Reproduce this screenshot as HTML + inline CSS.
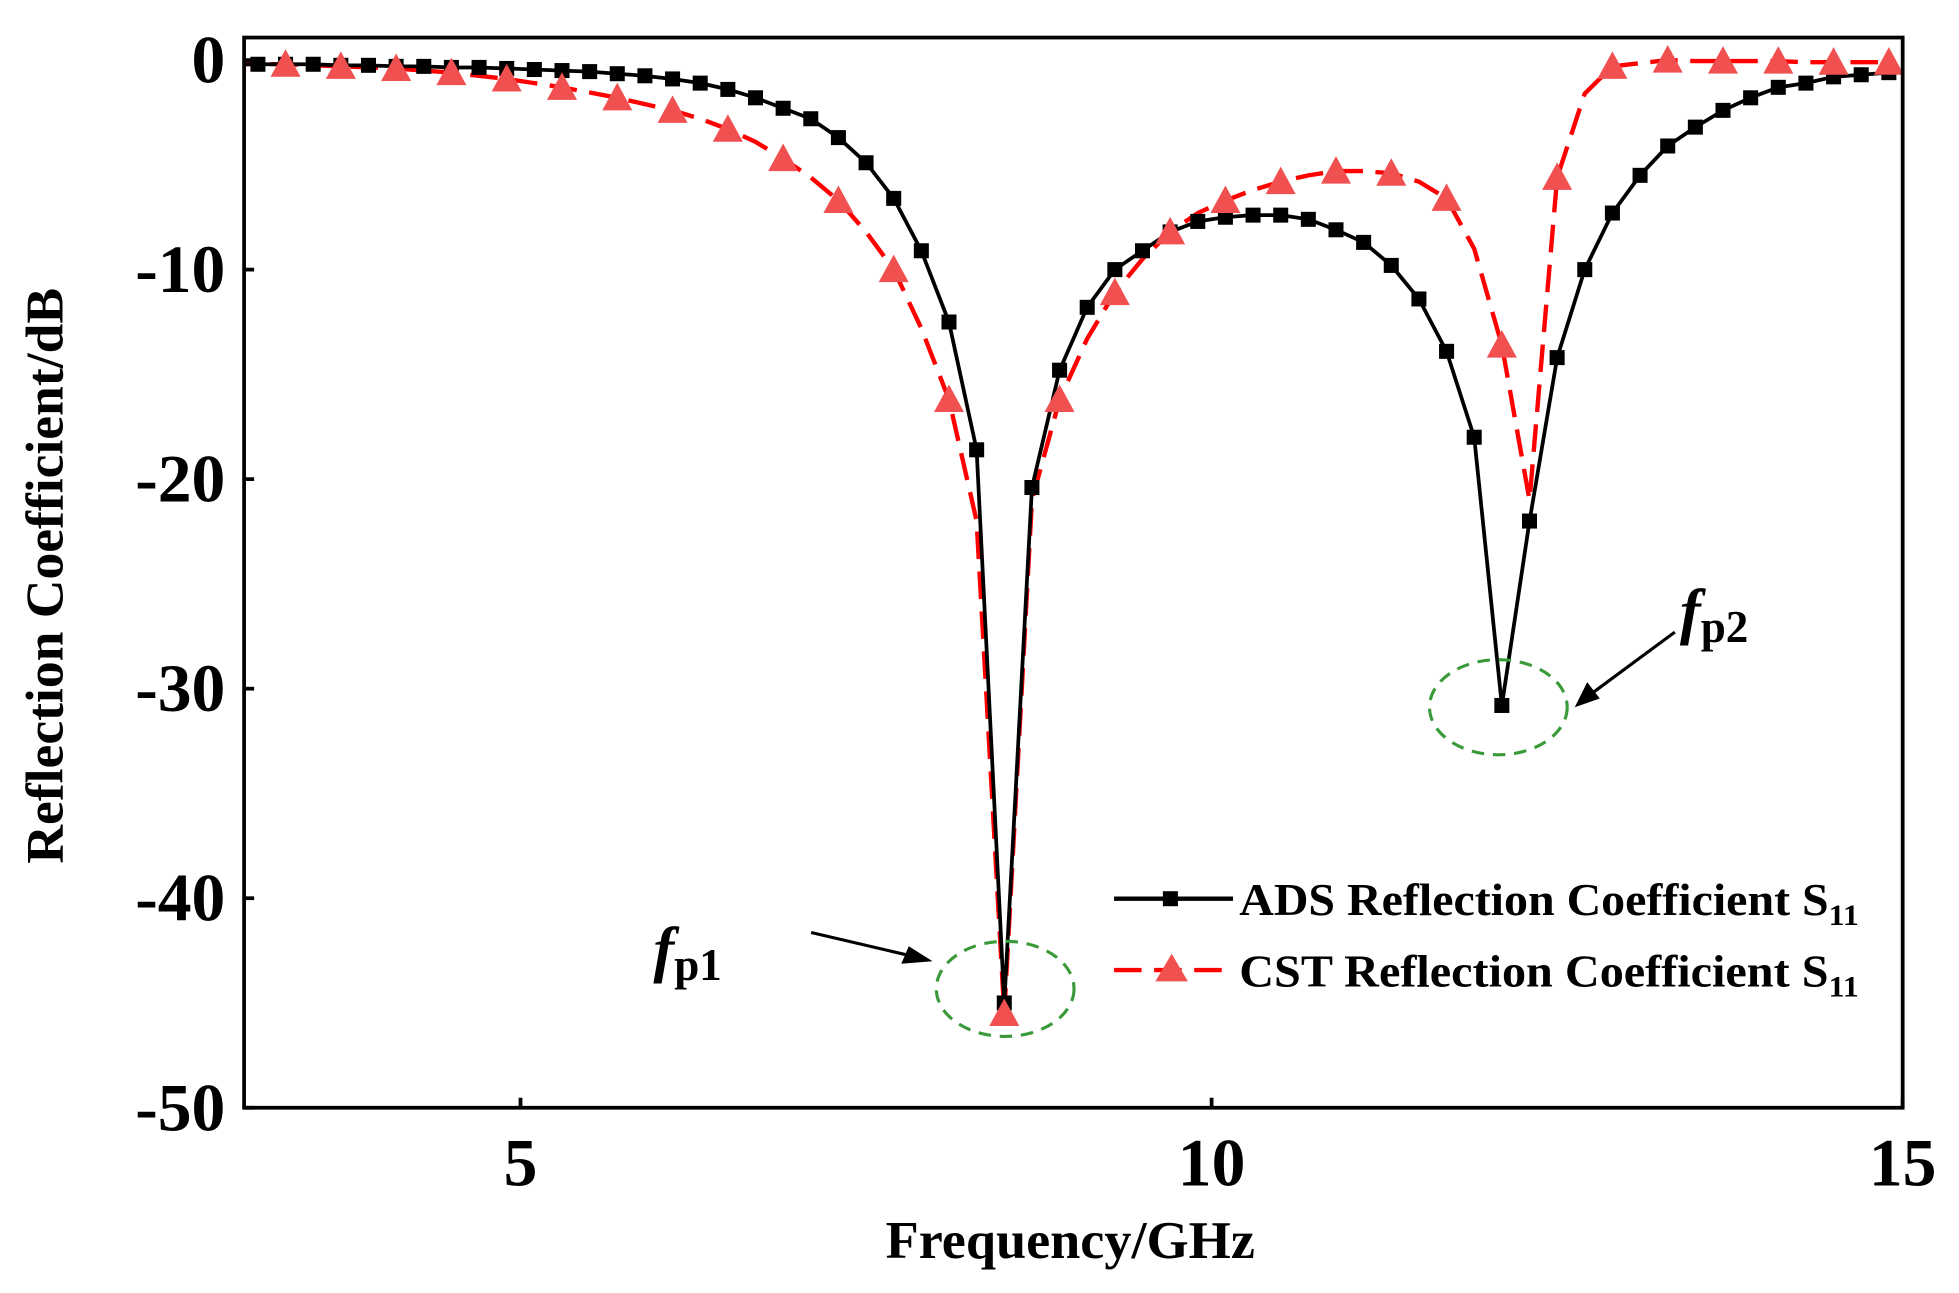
<!DOCTYPE html>
<html><head><meta charset="utf-8"><style>
html,body{margin:0;padding:0;background:#fff;}
svg{display:block;}
text{font-family:"Liberation Serif",serif;font-weight:bold;fill:#000;}
</style></head><body>
<svg id="chart" width="1959" height="1293" viewBox="0 0 1565 1033" preserveAspectRatio="none" xmlns="http://www.w3.org/2000/svg">
<defs><clipPath id="pc"><rect x="195" y="30" width="1325" height="855"/></clipPath></defs>
<g id="axes"></g>
<g id="series" clip-path="url(#pc)"></g>
<rect x="195" y="30" width="1325" height="855" fill="none" stroke="#000" stroke-width="3"/>
<text x="50" y="460" font-size="42" text-anchor="middle" transform="rotate(-90 50 460)" textLength="460" lengthAdjust="spacingAndGlyphs">Reflection Coefficient/dB</text>
<text x="855" y="1005" font-size="42" text-anchor="middle" textLength="295" lengthAdjust="spacingAndGlyphs">Frequency/GHz</text>
<ellipse cx="803" cy="790" rx="55" ry="38" fill="none" stroke="#3a9a3a" stroke-width="2.5" stroke-dasharray="10,7"/>
<ellipse cx="1197" cy="565" rx="55" ry="38" fill="none" stroke="#3a9a3a" stroke-width="2.5" stroke-dasharray="10,7"/>
<g><line x1="648" y1="745" x2="725" y2="763" stroke="#000" stroke-width="2.5"/><polygon points="745,768 720,770 726,756" fill="#000"/></g>
<g><line x1="1338" y1="505" x2="1273" y2="553" stroke="#000" stroke-width="2.5"/><polygon points="1258,565 1268,545 1278,558" fill="#000"/></g>
<text x="522" y="775" font-size="50" font-style="italic">f<tspan font-size="36" font-style="normal" dy="8">p1</tspan></text>
<text x="1342" y="505" font-size="50" font-style="italic">f<tspan font-size="36" font-style="normal" dy="8">p2</tspan></text>
<g>
<g><line x1="890" y1="718" x2="985" y2="718" stroke="#000" stroke-width="3.5"/><rect x="929" y="712" width="12" height="12" fill="#000"/><text x="990" y="731" font-size="36" textLength="495" lengthAdjust="spacingAndGlyphs">ADS Reflection Coefficient S<tspan font-size="24" dy="8">11</tspan></text></g>
<g><line x1="890" y1="775" x2="985" y2="775" stroke="#f00" stroke-width="3.5" stroke-dasharray="22,10"/><polygon points="936,762 923,784 949,784" fill="#f05050"/><text x="990" y="788" font-size="36" textLength="495" lengthAdjust="spacingAndGlyphs">CST Reflection Coefficient S<tspan font-size="24" dy="8">11</tspan></text></g>
</g>
</svg>
<script>
const xTicks=[5,10,15];
const yTicks=[0,-10,-20,-30,-40,-50];
const freqStart=2.9, freqStep=0.2;
const adsValues=[-0.2,-0.2,-0.2,-0.2,-0.25,-0.25,-0.3,-0.3,-0.35,-0.35,-0.4,-0.45,-0.5,-0.55,-0.65,-0.75,
-0.9,-1.1,-1.4,-1.8,-2.3,-2.8,-3.7,-4.9,-6.6,-9.1,-12.5,-18.6,-45,-20.4,-14.8,-11.8,-10,-9.1,-8.2,-7.7,
-7.5,-7.4,-7.4,-7.6,-8.1,-8.7,-9.8,-11.4,-13.9,-18,-30.8,-22,-14.2,-10,-7.3,-5.5,-4.1,-3.2,-2.4,-1.8,
-1.3,-1.1,-0.8,-0.7,-0.6];
const cstValues=[-0.2,-0.2,-0.2,-0.25,-0.3,-0.35,-0.4,-0.5,-0.6,-0.75,-0.9,
-1.1,-1.3,-1.55,-1.8,-2.1,-2.4,-2.8,-3.3,-3.9,-4.7,
-5.6,-6.7,-8.2,-10,-12.8,-16.2,-22,-45.5,-21,-16.2,
-13.3,-11.1,-9.5,-8.2,-7.3,-6.7,-6.2,-5.8,-5.5,-5.3,
-5.3,-5.4,-5.8,-6.6,-9,-13.6,-21,-5.6,-1.6,-0.3,
-0.15,0,-0.05,-0.05,-0.05,-0.05,-0.1,-0.1,-0.1,-0.1];
const NS='http://www.w3.org/2000/svg';
function X(f){return 195+(f-3)*(1325/12);}
function Y(v){return 48+(-v)*(837/50);}
function mk(t,a,p){const e=document.createElementNS(NS,t);for(const k in a)e.setAttribute(k,a[k]);p.appendChild(e);return e;}
const axes=document.getElementById('axes'), ser=document.getElementById('series');
xTicks.forEach(t=>{
  const l=mk('line',{x1:X(t),x2:X(t),y1:885,y2:877,stroke:'#000','stroke-width':3},axes);
  
  
  const tx=mk('text',{x:X(t),y:947,'font-size':54,'text-anchor':'middle'},axes);tx.textContent=t;
  
  
});
yTicks.forEach(t=>{
  const l=mk('line',{x1:195,x2:203,y1:Y(t),y2:Y(t),stroke:'#000','stroke-width':3},axes);
  
  
  const tx=mk('text',{x:180,y:Y(t)+18,'font-size':54,'text-anchor':'end'},axes);tx.textContent=t;
  
  
});
function pts(vals){return vals.map((v,i)=>X(freqStart+i*freqStep).toFixed(1)+','+Y(v).toFixed(1)).join(' ');}
const cl=mk('polyline',{points:pts(cstValues),fill:'none',stroke:'#f00','stroke-width':3.5,'stroke-dasharray':'22,10'},ser);


const al=mk('polyline',{points:pts(adsValues),fill:'none',stroke:'#000','stroke-width':3},ser);


adsValues.forEach((v,i)=>{
  const x=X(freqStart+i*freqStep),y=Y(v);
  const r=mk('rect',{x:x-6,y:y-6,width:12,height:12,fill:'#000'},ser);
  
  
});
cstValues.forEach((v,i)=>{
  if(i%2!==0)return;
  const x=X(freqStart+i*freqStep),y=Y(v);
  const p=mk('polygon',{points:`${x},${y-12} ${x-12},${y+10} ${x+12},${y+10}`,fill:'#f05050'},ser);
  
  
});
</script>
</body></html>
